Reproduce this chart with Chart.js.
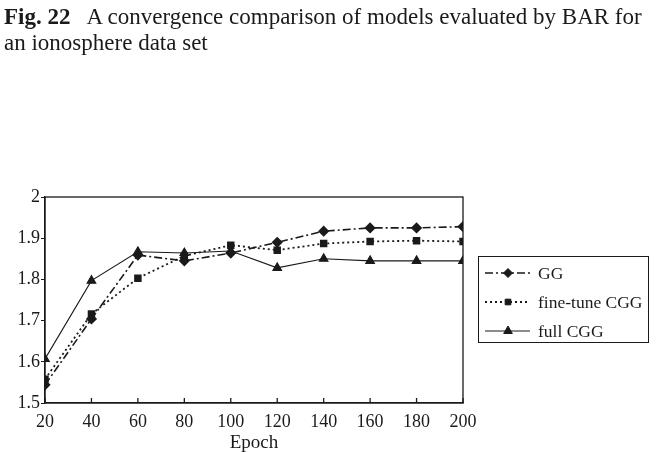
<!DOCTYPE html>
<html>
<head>
<meta charset="utf-8">
<title>Fig. 22</title>
<script src="https://cdn.jsdelivr.net/npm/chart.js@4.4.1/dist/chart.umd.min.js"></script>
<style>
  html, body { margin: 0; padding: 0; background: #fff; }
  #wrap { position: relative; width: 665px; height: 452px; }
  #caption {
    position: absolute; left: 4px; top: 4px;
    font-family: "Liberation Serif", "Times New Roman", serif;
    font-size: 23px; line-height: 26px; color: #1a1a1a; white-space: nowrap;
  }
  #chart { position: absolute; left: 0; top: 0; }
</style>
</head>
<body>
<div id="wrap">
  <canvas id="chart" width="665" height="452"></canvas>
  <div id="caption"><b>Fig. 22</b>&nbsp;&nbsp; A convergence comparison of models evaluated by BAR for<br>an ionosphere data set</div>
</div>
<script>
// values
const epochs = [20, 40, 60, 80, 100, 120, 140, 160, 180, 200];
const ggValues = [1.544, 1.704, 1.859, 1.845, 1.864, 1.890, 1.917, 1.925, 1.925, 1.928];
const fineTuneValues = [1.558, 1.716, 1.803, 1.857, 1.883, 1.871, 1.887, 1.892, 1.894, 1.892];
const fullCggValues = [1.607, 1.797, 1.867, 1.864, 1.869, 1.828, 1.850, 1.845, 1.845, 1.845];
const seriesNames = ['GG', 'fine-tune CGG', 'full CGG'];
const yMin = 1.5, yMax = 2, yStep = 0.1;
const xMin = 20, xMax = 200, xStep = 20;

const ink = '#1a1a1a';
const serif = '"Liberation Serif", "Times New Roman", serif';

function toPoints(values) {
  return epochs.map((e, i) => ({ x: e, y: values[i] }));
}

// frame, inward x ticks and the boxed legend on the right
const extrasPlugin = {
  id: 'extras',
  afterDraw(chart) {
    const { ctx, chartArea: a, scales } = chart;
    const x = scales.x;
    ctx.save();
    ctx.strokeStyle = ink;
    ctx.lineWidth = 1.3;
    ctx.strokeRect(a.left, a.top, a.right - a.left, a.bottom - a.top);

    ctx.beginPath();
    x.ticks.forEach(t => {
      const px = x.getPixelForValue(t.value);
      ctx.moveTo(px, a.bottom);
      ctx.lineTo(px, a.bottom - 5);
    });
    ctx.stroke();

    // legend
    const box = { left: 478, top: 256, width: 170, height: 86 };
    ctx.lineWidth = 1;
    ctx.strokeRect(box.left + 0.5, box.top + 0.5, box.width, box.height);
    ctx.font = '17.5px ' + serif;
    ctx.fillStyle = ink;
    ctx.textBaseline = 'middle';
    chart.data.datasets.forEach((ds, i) => {
      const y = box.top + 17 + i * 29;
      ctx.save();
      ctx.strokeStyle = ds.borderColor;
      ctx.lineWidth = ds.borderWidth;
      ctx.setLineDash(ds.borderDash || []);
      ctx.beginPath();
      ctx.moveTo(485, y);
      ctx.lineTo(530, y);
      ctx.stroke();
      ctx.restore();
      ctx.save();
      ctx.fillStyle = ds.pointBackgroundColor;
      ctx.strokeStyle = ds.pointBorderColor;
      Chart.helpers.drawPoint(ctx, {
        pointStyle: ds.pointStyle,
        radius: ds.pointRadius,
        rotation: 0,
        borderWidth: 1
      }, 508, y);
      ctx.restore();
      ctx.fillText(ds.label, 538, y + 1);
    });
    ctx.restore();
  }
};

const chart = new Chart(document.getElementById('chart').getContext('2d'), {
  type: 'line',
  data: {
    datasets: [
      {
        label: seriesNames[0],
        data: toPoints(ggValues),
        borderColor: ink,
        borderWidth: 1.6,
        borderDash: [8, 3, 2, 3],
        pointStyle: 'rectRot',
        pointRadius: 4.5,
        pointBackgroundColor: ink,
        pointBorderColor: ink
      },
      {
        label: seriesNames[1],
        data: toPoints(fineTuneValues),
        borderColor: ink,
        borderWidth: 1.8,
        borderDash: [2, 3],
        pointStyle: 'rect',
        pointRadius: 4,
        pointBackgroundColor: ink,
        pointBorderColor: ink
      },
      {
        label: seriesNames[2],
        data: toPoints(fullCggValues),
        borderColor: ink,
        borderWidth: 1.1,
        pointStyle: 'triangle',
        pointRadius: 5,
        pointBackgroundColor: ink,
        pointBorderColor: ink
      }
    ]
  },
  options: {
    responsive: false,
    animation: false,
    layout: { padding: { top: 197, right: 202, left: 0, bottom: 0 } },
    plugins: {
      legend: { display: false },
      tooltip: { enabled: false }
    },
    scales: {
      x: {
        type: 'linear',
        min: xMin,
        max: xMax,
        afterFit(scale) { scale.height = 49; },
        grid: { drawOnChartArea: false, drawTicks: false },
        border: { color: ink, width: 1.3 },
        ticks: { stepSize: xStep, color: ink, padding: 8, font: { family: serif, size: 18 } },
        title: { display: true, text: 'Epoch', color: ink, padding: { top: 0, bottom: -2 }, font: { family: serif, size: 19 } }
      },
      y: {
        min: yMin,
        max: yMax,
        afterFit(scale) { scale.width = 45; },
        grid: { drawOnChartArea: false, tickLength: 4, color: ink },
        border: { color: ink, width: 1.3 },
        ticks: {
          stepSize: yStep,
          color: ink,
          padding: 1,
          font: { family: serif, size: 18 },
          callback: v => (Math.abs(v - 2) < 1e-9 ? '2' : v.toFixed(1))
        }
      }
    }
  },
  plugins: [extrasPlugin]
});
</script>
</body>
</html>
